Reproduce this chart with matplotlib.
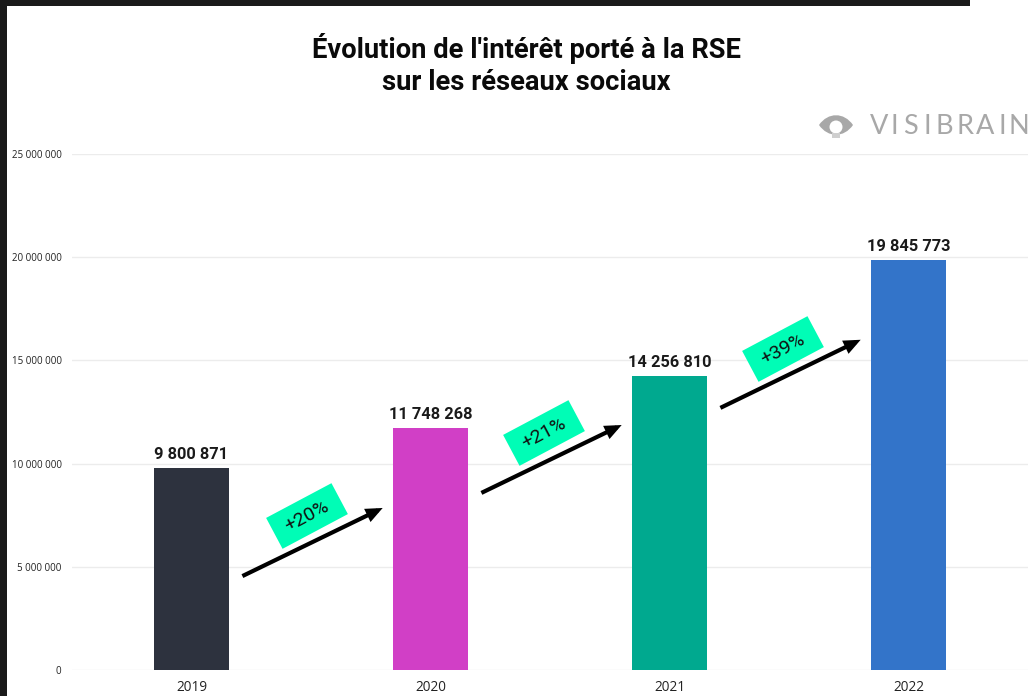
import matplotlib
matplotlib.use('Agg')
import matplotlib.pyplot as plt
from matplotlib.patches import Rectangle, PathPatch, Circle
from matplotlib.path import Path
from matplotlib.transforms import Affine2D, IdentityTransform

annees = ['2019', '2020', '2021', '2022']
valeurs = [9800871, 11748268, 14256810, 19845773]
etiquettes = ['9 800 871', '11 748 268', '14 256 810', '19 845 773']
couleurs = ['#2d323e', '#d13fc6', '#00a98f', '#3374c9']
hausses = ['+20%', '+21%', '+39%']
graduations = [0, 5000000, 10000000, 15000000, 20000000, 25000000]
graduations_txt = ['0', '5 000 000', '10 000 000', '15 000 000', '20 000 000', '25 000 000']

# departs et arrivees des fleches, en valeur de l'axe y
fleche_debut = [4550000, 8580000, 12700000]
fleche_fin = [7850000, 11870000, 16000000]

W, H = 1033, 696
police = ['Open Sans', 'DejaVu Sans']
police_titre = ['Roboto', 'DejaVu Sans']

fig = plt.figure(figsize=(W / 100, H / 100), dpi=100, facecolor='white')
ax = fig.add_axes([72 / W, 1 - 670 / H, 956 / W, 516 / H])

ax.bar(annees, valeurs, width=75 / 239, color=couleurs, zorder=3)
ax.set_xlim(-0.5, 3.5)
ax.set_ylim(0, 25000000)
ax.set_yticks(graduations)
ax.set_yticklabels(graduations_txt, family=police, fontsize=7, color='#222222')
ax.tick_params(axis='y', length=0, pad=7.5)
ax.tick_params(axis='x', length=0, pad=7.5, labelsize=9.8, labelcolor='#222222')
for lab in ax.get_xticklabels():
    lab.set_family(police)
ax.grid(axis='y', color='#ececec', lw=1, zorder=0)
ax.set_axisbelow(True)
for s in ax.spines.values():
    s.set_visible(False)

for i, v in enumerate(valeurs):
    ax.annotate(etiquettes[i], (i, v), xytext=(0, 6), textcoords='offset pixels',
                ha='center', va='bottom', fontsize=11.8, fontweight='bold',
                family=police_titre, color='#1a1a1a', zorder=5)

for i in range(3):
    ax.annotate('', xy=(i + 0.80, fleche_fin[i]), xytext=(i + 0.213, fleche_debut[i]),
                arrowprops=dict(arrowstyle='-|>,head_width=0.3,head_length=0.7', color='black',
                                lw=3, shrinkA=0, shrinkB=0, joinstyle='miter', capstyle='butt'), zorder=6)

# etiquettes vertes, placees en pixels (y depuis le haut)
centres = [(307, 516), (544, 433), (783, 349)]
for (cx, cy), txt in zip(centres, hausses):
    y = H - cy
    rot = Affine2D().rotate_deg_around(cx, y, 28)
    fig.add_artist(Rectangle((cx - 37, y - 17.5), 74, 35, color='#00fdb6', lw=0,
                             transform=rot + IdentityTransform(), zorder=7))
    fig.text(cx / W, y / H, txt, rotation=28, rotation_mode='anchor', ha='center', va='center',
             fontsize=14, family=police_titre, color='#111111', zorder=8)

fig.text(526 / W, 1 - 48 / H, "Évolution de l'intérêt porté à la RSE", ha='center', va='center',
         fontsize=19.7, fontweight='bold', family=police_titre, color='#0a0a0a')
fig.text(526 / W, 1 - 82 / H, 'sur les réseaux sociaux', ha='center', va='center',
         fontsize=19.7, fontweight='bold', family=police_titre, color='#0a0a0a')

# logo
gris = '#a8a8a8'
lettres = 'VISIBRAIN'
lettres_x = [879, 894, 910, 927, 944, 965, 985, 1002, 1019]
for c, x in zip(lettres, lettres_x):
    fig.text(x / W, 1 - 127 / H, c, ha='center', va='center', fontsize=19.5, family=['Lato', 'DejaVu Sans'],
             color=gris)
oeil = Path([(819, H - 125), (828, H - 112), (844, H - 112), (853, H - 125), (844, H - 138), (828, H - 138), (819, H - 125)],
            [Path.MOVETO, Path.CURVE4, Path.CURVE4, Path.CURVE4, Path.CURVE4, Path.CURVE4, Path.CURVE4])
fig.add_artist(PathPatch(oeil, color=gris, lw=0, transform=IdentityTransform()))
fig.add_artist(Circle((836, H - 127), 6.5, color='white', lw=0, transform=IdentityTransform()))
fig.add_artist(Rectangle((832, H - 138), 8, 5, color='#cfcfcf', lw=0, transform=IdentityTransform()))

# bandes sombres de la capture
fig.add_artist(Rectangle((0, 0), 7 / W, 1, color='#1a1a1a', lw=0, transform=fig.transFigure))
fig.add_artist(Rectangle((0, 1 - 6 / H), 970 / W, 6 / H, color='#1a1a1a', lw=0, transform=fig.transFigure))

fig.savefig('out.png', dpi=100)
